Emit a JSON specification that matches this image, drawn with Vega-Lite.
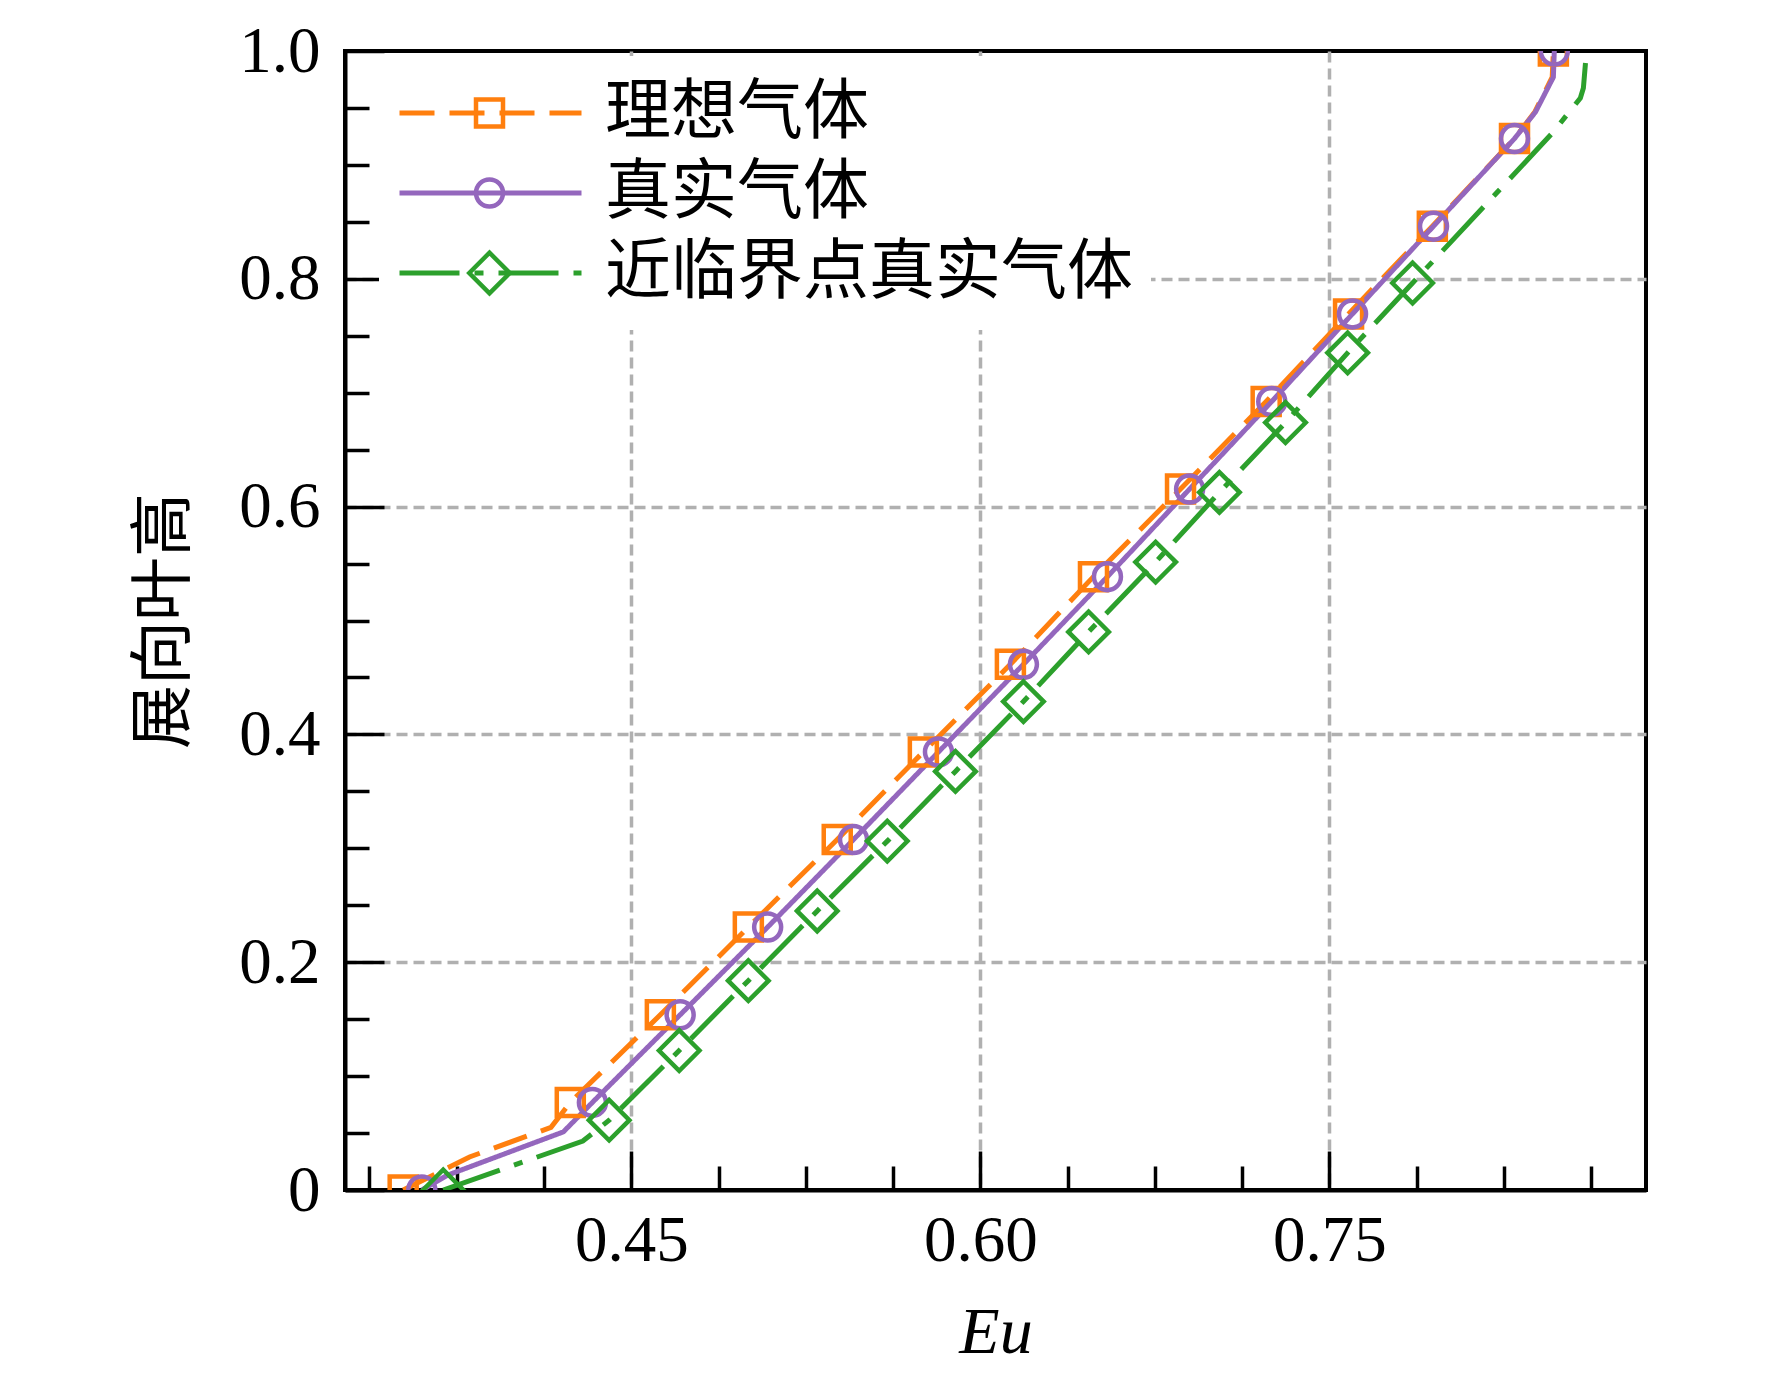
{
  "$schema": "https://vega.github.io/schema/vega-lite/v6.json",
  "width": 1301,
  "height": 1139,
  "autosize": {"type": "none"},
  "padding": {"left": 345, "top": 51, "right": 126, "bottom": 184},
  "background": "white",
  "data": {
    "values": [
      {"s": "理想气体", "x": 0.352, "y": 0, "m": 1},
      {"s": "理想气体", "x": 0.3805, "y": 0.029, "m": 0},
      {"s": "理想气体", "x": 0.4155, "y": 0.055, "m": 0},
      {"s": "理想气体", "x": 0.4238, "y": 0.0769, "m": 1},
      {"s": "理想气体", "x": 0.4625, "y": 0.1538, "m": 1},
      {"s": "理想气体", "x": 0.5003, "y": 0.2308, "m": 1},
      {"s": "理想气体", "x": 0.5385, "y": 0.3077, "m": 1},
      {"s": "理想气体", "x": 0.5755, "y": 0.3846, "m": 1},
      {"s": "理想气体", "x": 0.6129, "y": 0.4615, "m": 1},
      {"s": "理想气体", "x": 0.6486, "y": 0.5385, "m": 1},
      {"s": "理想气体", "x": 0.686, "y": 0.6154, "m": 1},
      {"s": "理想气体", "x": 0.7228, "y": 0.6923, "m": 1},
      {"s": "理想气体", "x": 0.7582, "y": 0.7692, "m": 1},
      {"s": "理想气体", "x": 0.7942, "y": 0.8462, "m": 1},
      {"s": "理想气体", "x": 0.8295, "y": 0.9231, "m": 1},
      {"s": "理想气体", "x": 0.8382, "y": 0.9464, "m": 0},
      {"s": "理想气体", "x": 0.8457, "y": 0.977, "m": 0},
      {"s": "理想气体", "x": 0.8462, "y": 1.0, "m": 1},
      {"s": "真实气体", "x": 0.36, "y": 0, "m": 1},
      {"s": "真实气体", "x": 0.371, "y": 0.013, "m": 0},
      {"s": "真实气体", "x": 0.4208, "y": 0.051, "m": 0},
      {"s": "真实气体", "x": 0.4333, "y": 0.0769, "m": 1},
      {"s": "真实气体", "x": 0.471, "y": 0.1538, "m": 1},
      {"s": "真实气体", "x": 0.5086, "y": 0.2308, "m": 1},
      {"s": "真实气体", "x": 0.5455, "y": 0.3077, "m": 1},
      {"s": "真实气体", "x": 0.582, "y": 0.3846, "m": 1},
      {"s": "真实气体", "x": 0.6185, "y": 0.4615, "m": 1},
      {"s": "真实气体", "x": 0.6546, "y": 0.5385, "m": 1},
      {"s": "真实气体", "x": 0.6899, "y": 0.6154, "m": 1},
      {"s": "真实气体", "x": 0.7252, "y": 0.6923, "m": 1},
      {"s": "真实气体", "x": 0.7599, "y": 0.7692, "m": 1},
      {"s": "真实气体", "x": 0.7947, "y": 0.8462, "m": 1},
      {"s": "真实气体", "x": 0.8295, "y": 0.9231, "m": 1},
      {"s": "真实气体", "x": 0.8385, "y": 0.9464, "m": 0},
      {"s": "真实气体", "x": 0.8462, "y": 0.977, "m": 0},
      {"s": "真实气体", "x": 0.8466, "y": 1.0, "m": 1},
      {"s": "近临界点真实气体", "x": 0.3692, "y": 0, "m": 1},
      {"s": "近临界点真实气体", "x": 0.4292, "y": 0.043, "m": 0},
      {"s": "近临界点真实气体", "x": 0.4405, "y": 0.0613, "m": 1},
      {"s": "近临界点真实气体", "x": 0.4706, "y": 0.1225, "m": 1},
      {"s": "近临界点真实气体", "x": 0.5003, "y": 0.1838, "m": 1},
      {"s": "近临界点真实气体", "x": 0.5299, "y": 0.245, "m": 1},
      {"s": "近临界点真实气体", "x": 0.56, "y": 0.3063, "m": 1},
      {"s": "近临界点真实气体", "x": 0.5893, "y": 0.3675, "m": 1},
      {"s": "近临界点真实气体", "x": 0.6185, "y": 0.4288, "m": 1},
      {"s": "近临界点真实气体", "x": 0.6465, "y": 0.49, "m": 1},
      {"s": "近临界点真实气体", "x": 0.6753, "y": 0.5513, "m": 1},
      {"s": "近临界点真实气体", "x": 0.7027, "y": 0.6125, "m": 1},
      {"s": "近临界点真实气体", "x": 0.7311, "y": 0.6738, "m": 1},
      {"s": "近临界点真实气体", "x": 0.7578, "y": 0.735, "m": 1},
      {"s": "近临界点真实气体", "x": 0.7857, "y": 0.7963, "m": 1},
      {"s": "近临界点真实气体", "x": 0.8458, "y": 0.928, "m": 0},
      {"s": "近临界点真实气体", "x": 0.8578, "y": 0.9587, "m": 0},
      {"s": "近临界点真实气体", "x": 0.8591, "y": 0.9675, "m": 0},
      {"s": "近临界点真实气体", "x": 0.86, "y": 0.9895, "m": 0}
    ]
  },
  "layer": [
    {
      "mark": {"type": "line", "strokeWidth": 5, "clip": true},
      "encoding": {
        "x": {
          "field": "x",
          "type": "quantitative",
          "scale": {"domain": [0.327, 0.886], "nice": false, "zero": false},
          "axis": {
            "orient": "bottom",
            "values": [0.45, 0.6, 0.75],
            "format": ".2f",
            "tickSize": -39,
            "labelPadding": 58,
            "grid": true,
            "title": "Eu",
            "titleFontStyle": "italic",
            "titleFontSize": 66,
            "titlePadding": 27
          }
        },
        "y": {
          "field": "y",
          "type": "quantitative",
          "scale": {"domain": [0, 1], "nice": false},
          "axis": {
            "orient": "left",
            "values": [0, 0.2, 0.4, 0.6, 0.8, 1.0],
            "labelExpr": "datum.value == 0 ? '0' : format(datum.value, '.1f')",
            "tickSize": -39,
            "labelPadding": 64,
            "grid": true,
            "gridOpacity": {"condition": {"test": "datum.value == 0 || datum.value == 1", "value": 0}, "value": 1},
            "title": "展向叶高",
            "titleFont": "Noto Sans CJK SC",
            "titleFontSize": 64,
            "titlePadding": 42
          }
        },
        "order": {"field": "y"},
        "color": {
          "field": "s",
          "type": "nominal",
          "title": null,
          "scale": {
            "domain": ["理想气体", "真实气体", "近临界点真实气体"],
            "range": ["#ff7f0e", "#9467bd", "#2ca02c"]
          },
          "legend": {
            "orient": "none",
            "legendX": 34,
            "legendY": 5,
            "padding": 18,
            "fillColor": "white",
            "symbolType": "stroke",
            "symbolSize": 33124,
            "symbolStrokeWidth": 5,
            "clipHeight": 78,
            "rowPadding": 2,
            "labelOffset": 21,
            "labelFont": "Noto Sans CJK SC",
            "labelFontSize": 66,
            "labelColor": "black",
            "labelLimit": 1000,
            "zindex": 1
          }
        },
        "strokeDash": {
          "field": "s",
          "type": "nominal",
          "title": null,
          "scale": {
            "domain": ["理想气体", "真实气体", "近临界点真实气体"],
            "range": [[35, 15], [1, 0], [60, 15, 9, 15]]
          }
        }
      }
    },
    {
      "transform": [{"filter": "datum.m == 1"}],
      "mark": {"type": "point", "filled": false, "opacity": 1, "strokeWidth": 4.5, "size": 729, "clip": true},
      "encoding": {
        "x": {
          "field": "x",
          "type": "quantitative",
          "scale": {"domain": [0.327, 0.886], "nice": false, "zero": false},
          "axis": {
            "orient": "bottom",
            "values": [0.3375, 0.375, 0.4125, 0.4875, 0.525, 0.5625, 0.6375, 0.675, 0.7125, 0.7875, 0.825, 0.8625],
            "tickSize": -24,
            "labels": false,
            "grid": false,
            "domain": false,
            "title": null
          }
        },
        "y": {
          "field": "y",
          "type": "quantitative",
          "scale": {"domain": [0, 1], "nice": false},
          "axis": {
            "orient": "left",
            "values": [0.05, 0.1, 0.15, 0.25, 0.3, 0.35, 0.45, 0.5, 0.55, 0.65, 0.7, 0.75, 0.85, 0.9, 0.95],
            "tickSize": -24,
            "labels": false,
            "grid": false,
            "domain": false,
            "title": null
          }
        },
        "stroke": {
          "field": "s",
          "type": "nominal",
          "title": null,
          "scale": {
            "range": ["#ff7f0e", "#9467bd", "#2ca02c"]
          }
        },
        "shape": {
          "field": "s",
          "type": "nominal",
          "title": null,
          "scale": {
            "range": [
              "M-1,-1H1V1H-1Z",
              "M1,0A1,1,0,1,1,-1,0A1,1,0,1,1,1,0Z",
              "M-1.5,0L0,-1.5L1.5,0L0,1.5Z"
            ]
          },
          "legend": {
            "orient": "none",
            "legendX": 93.5,
            "legendY": 5,
            "padding": 18,
            "symbolSize": 729,
            "symbolStrokeWidth": 4.5,
            "symbolFillColor": "transparent",
            "clipHeight": 78,
            "rowPadding": 2,
            "labelExpr": "''",
            "labelFontSize": 66,
            "zindex": 2
          }
        }
      }
    }
  ],
  "resolve": {"axis": {"x": "independent", "y": "independent"}},
  "config": {
    "font": "Liberation Serif",
    "view": {"stroke": "black", "strokeWidth": 4},
    "axis": {
      "labelFont": "Liberation Serif",
      "labelFontSize": 65,
      "labelColor": "black",
      "labelFlush": false,
      "labelOverlap": false,
      "titleFont": "Liberation Serif",
      "titleFontWeight": "normal",
      "titleColor": "black",
      "domainColor": "black",
      "domainWidth": 4,
      "tickColor": "black",
      "tickWidth": 3.5,
      "gridColor": "#b0b0b0",
      "gridDash": [11, 6],
      "gridWidth": 3.5
    }
  }
}
